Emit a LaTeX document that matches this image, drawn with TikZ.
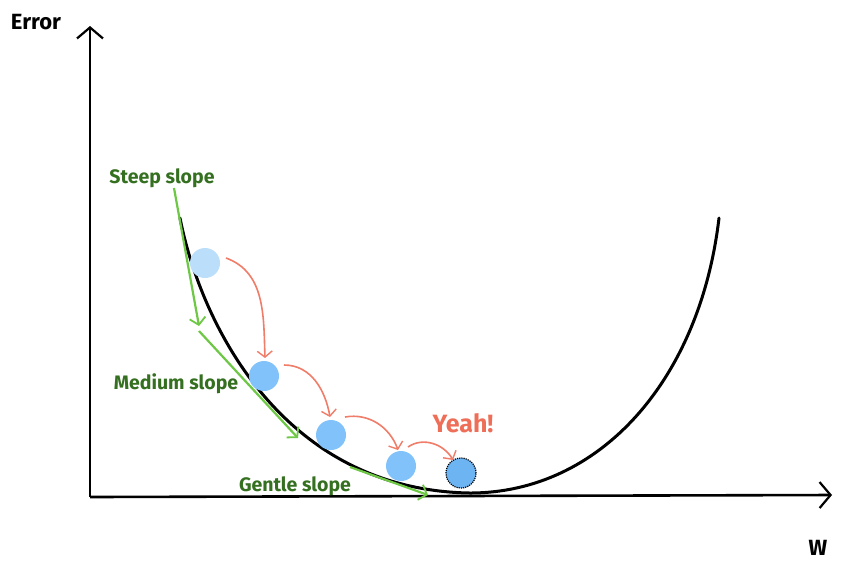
\documentclass[tikz,border=0pt]{standalone}
\usepackage{fontspec}
\setmainfont{Fira Sans}
\usetikzlibrary{arrows.meta}
\definecolor{slopegreen}{RGB}{52,112,32}
\definecolor{arrowgreen}{RGB}{110,200,70}
\definecolor{salmon}{RGB}{240,125,105}
\definecolor{yeahred}{RGB}{238,110,88}
\definecolor{balllight}{RGB}{187,222,250}
\definecolor{ballmid}{RGB}{128,194,249}
\definecolor{balldark}{RGB}{108,180,242}
\tikzset{
  axisline/.style={line width=2.6pt, black, -{Straight Barb[length=11pt,width=26pt,line width=2.2pt]}},
  curveline/.style={line width=3pt, black, line cap=round},
  greenarrow/.style={line width=2.2pt, arrowgreen, -{Straight Barb[length=7pt,width=16pt,line width=1.8pt]}},
  redarrow/.style={line width=1.6pt, salmon, -{Straight Barb[length=6pt,width=15pt,line width=1.4pt]}},
  ball/.style={circle, minimum size=30pt, inner sep=0pt},
  slopelabel/.style={text=slopegreen, font=\bfseries\fontsize{19.5}{22}\selectfont},
  axislabel/.style={text=black, font=\bfseries\fontsize{22}{26}\selectfont}
}
\begin{document}
\begin{tikzpicture}[x=1pt,y=-1pt]
\useasboundingbox[fill=white] (0,0) rectangle (842,566);
% axes
\coordinate (O) at (90,497);
\coordinate (Ytip) at (90,26);
\coordinate (Xtip) at (832,495);
\draw[axisline] (O) -- (Ytip);
\draw[axisline] (O) -- (Xtip);
\node[axislabel] (err) at (36,22) {Error};
\node[axislabel] (w) at (818,548) {W};
% error curve
\coordinate (cL) at (180,218);
\coordinate (cM) at (470,493);
\coordinate (cR) at (719,218);
\draw[curveline] (cL) .. controls (200,320) and (280,490) .. (cM)
                      .. controls (600,493) and (700,380) .. (cR);
% green slope arrows
\coordinate (s1a) at (174,188); \coordinate (s1b) at (199,326);
\coordinate (s2a) at (199,331); \coordinate (s2b) at (298,438);
\coordinate (s3a) at (350,467); \coordinate (s3b) at (428,495);
\draw[greenarrow] (s1a) -- (s1b);
\draw[greenarrow] (s2a) -- (s2b);
\draw[greenarrow] (s3a) -- (s3b);
% balls
\node[ball, fill=balllight] (b1) at (205,263) {};
\node[ball, fill=ballmid] (b2) at (264,376) {};
\node[ball, fill=ballmid] (b3) at (331,435) {};
\node[ball, fill=ballmid] (b4) at (401,466) {};
\node[ball, fill=balldark, draw=black, densely dotted, line width=1.2pt] (b5) at (461,473) {};
% red arrows
\coordinate (r1a) at (226,258); \coordinate (r1b) at (265,358);
\coordinate (r2a) at (284,365); \coordinate (r2b) at (330,417);
\coordinate (r3a) at (345,417); \coordinate (r3b) at (398,450);
\coordinate (r4a) at (408,447); \coordinate (r4b) at (453,460);
\draw[redarrow] (r1a) to[out=-20,in=92] (r1b);
\draw[redarrow] (r2a) to[out=0,in=100] (r2b);
\draw[redarrow] (r3a) to[out=10,in=110] (r3b);
\draw[redarrow] (r4a) to[out=35,in=120] (r4b);
% labels
\node[slopelabel] (steep) at (162,178) {Steep slope};
\node[slopelabel] (medium) at (176,384) {Medium slope};
\node[slopelabel] (gentle) at (295,486) {Gentle slope};
\node[text=yeahred, font=\bfseries\fontsize{25}{30}\selectfont] (yeah) at (463,423) {Yeah!};
\end{tikzpicture}
\end{document}
